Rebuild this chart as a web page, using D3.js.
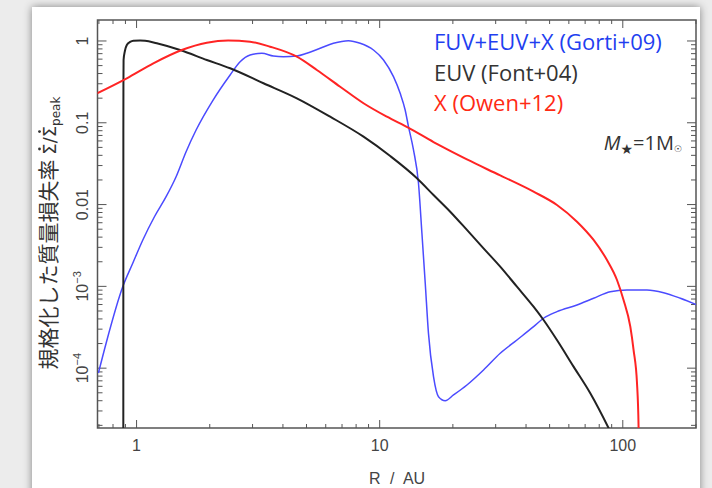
<!DOCTYPE html>
<html><head><meta charset="utf-8">
<script src="https://cdn.jsdelivr.net/npm/d3@7"></script>
<style>body{margin:0;background:#ececec;} svg{display:block}</style>
</head><body>
<svg id="c" width="712" height="488"></svg>
<script>
// ---- data ----
const seriesNames = ["FUV+EUV+X (Gorti+09)", "EUV (Font+04)", "X (Owen+12)"];
const seriesColors = ["#4b4bff", "#222222", "#ff2424"];
const legendColors = ["#1f3ff0", "#333333", "#ff2a14"];

const gortiR = [0.70,0.753,0.882,0.969,1.066,1.19,1.329,1.461,1.606,1.766,2.074,2.437,2.679,2.945,3.291,3.673,4.039,4.585,5.04,5.717,6.485,7.475,8.353,9.474,10.42,11.45,12.2,12.79,13.2,13.84,14.51,14.99,15.47,15.95,16.73,17.54,18.69,20.22,22.96,26.87,31.47,36.87,43.15,47.45,53.86,65.11,76.2,89.2,104.5,126.3,147.9,173.3,203];
const gortiV = [8.6e-5,1.99e-4,9.8e-4,1.89e-3,3.64e-3,7.0e-3,0.0123,0.0216,0.0437,0.0805,0.187,0.379,0.551,0.665,0.698,0.646,0.634,0.646,0.698,0.803,0.924,0.994,0.924,0.765,0.578,0.361,0.226,0.1414,0.0884,0.0459,0.01796,4.4e-3,1.076e-3,2.63e-4,7.76e-5,4.42e-5,3.95e-5,4.64e-5,6.14e-5,9.37e-5,1.5e-4,2.18e-4,3.17e-4,4.02e-4,4.84e-4,5.84e-4,7.05e-4,8.49e-4,8.91e-4,8.91e-4,8.26e-4,7.05e-4,5.84e-4];

const fontR = [0.8862,0.8866,0.8872,0.8884,0.90,0.916,0.945,0.975,1.039,1.089,1.217,1.517,1.954,2.437,3.342,4.585,6.285,8.62,11.1,14.3,16.73,19.6,22.96,26.87,31.47,36.87,43.15,47.45,53.86,63.04,73.86,87.8,93.6];
const fontV = [1e-5,0.074,0.3,0.578,0.75,0.881,0.96,0.995,1.0,0.995,0.924,0.765,0.578,0.457,0.3,0.1965,0.117,0.0667,0.0387,0.0207,0.01291,8.07e-3,4.83e-3,2.88e-3,1.72e-3,9.78e-4,5.57e-4,3.83e-4,2.18e-4,1.03e-4,4.86e-5,1.83e-5,1.24e-5];

const owenR = [0.691,0.916,1.178,1.542,1.954,2.391,2.945,3.559,4.585,5.54,6.91,8.62,10.76,13.16,16.73,18.39,22.96,31.47,43.15,53.86,65.11,76.2,86.5,95.1,101.2,107.9,111.3,114.96,116.7,116.9];
const owenV = [0.226,0.345,0.526,0.765,0.94,1.0,0.967,0.84,0.634,0.436,0.272,0.171,0.117,0.0859,0.0574,0.0492,0.0351,0.0224,0.01418,9.75e-3,6.09e-3,3.64e-3,2.07e-3,1.18e-3,6.72e-4,3.17e-4,1.64e-4,6.45e-5,1.83e-5,1.0e-5];

const xTickValues = [1, 10, 100];
const xTickLabels = ["1", "10", "100"];
const yTickValues = [1, 0.1, 0.01, 1e-3, 1e-4];
const yTickLabels = ["1", "0.1", "0.01", "10^−3", "10^−4"];
const xDomain = [0.694, 201];
const yDomain = [1.83e-5, 1.78];

// ---- drawing ----
const svg = d3.select("#c");
const defs = svg.append("defs");
const f = defs.append("filter").attr("id","sh").attr("x","-10%").attr("y","-10%").attr("width","120%").attr("height","120%");
f.append("feDropShadow").attr("dx",0).attr("dy",0).attr("stdDeviation",4).attr("flood-color","#000").attr("flood-opacity",0.45);
svg.append("rect").attr("x",32).attr("y",7).attr("width",668).attr("height",500).attr("fill","#fff").attr("filter","url(#sh)");

const L = 97.5, R = 696, T = 20, B = 428;
const x = d3.scaleLog().domain(xDomain).range([L, R]);
const y = d3.scaleLog().domain(yDomain).range([B, T]);

defs.append("clipPath").attr("id","clip").append("rect").attr("x",L).attr("y",T).attr("width",R-L).attr("height",B-T);

const xMinor = x.ticks().filter(d => !xTickValues.some(v => Math.abs(v-d)/v < 1e-9));
const yMinor = y.ticks().filter(d => !yTickValues.some(v => Math.abs(v-d)/v < 1e-9));

function styleAxis(g){ g.select(".domain").remove(); g.selectAll("line").attr("stroke","#555"); }
const tickFont = "'Liberation Sans', Arial, sans-serif";

// bottom
svg.append("g").attr("transform",`translate(0,${B})`).call(d3.axisBottom(x).tickValues(xMinor).tickSize(-4).tickFormat("")).call(styleAxis);
const gb = svg.append("g").attr("transform",`translate(0,${B})`)
  .call(d3.axisBottom(x).tickValues(xTickValues).tickSize(-8).tickPadding(12).tickFormat((d,i)=>xTickLabels[i])).call(styleAxis);
gb.selectAll("text").attr("font-family",tickFont).attr("font-size",16).attr("fill","#444");
// top
svg.append("g").attr("transform",`translate(0,${T})`).call(d3.axisTop(x).tickValues(xMinor).tickSize(-4).tickFormat("")).call(styleAxis);
svg.append("g").attr("transform",`translate(0,${T})`).call(d3.axisTop(x).tickValues(xTickValues).tickSize(-8).tickFormat("")).call(styleAxis);
// right
svg.append("g").attr("transform",`translate(${R},0)`).call(d3.axisRight(y).tickValues(yMinor).tickSize(-5).tickFormat("")).call(styleAxis);
svg.append("g").attr("transform",`translate(${R},0)`).call(d3.axisRight(y).tickValues(yTickValues).tickSize(-9).tickFormat("")).call(styleAxis);
// left
svg.append("g").attr("transform",`translate(${L},0)`).call(d3.axisLeft(y).tickValues(yMinor).tickSize(-5).tickFormat("")).call(styleAxis);
const gl = svg.append("g").attr("transform",`translate(${L},0)`)
  .call(d3.axisLeft(y).tickValues(yTickValues).tickSize(-9).tickFormat((d,i)=>yTickLabels[i])).call(styleAxis);
gl.selectAll("text").each(function(){
  const t = d3.select(this); const s = t.text(); t.text("");
  t.attr("x",0).attr("y",0).attr("dy",null).attr("text-anchor","middle")
   .attr("transform","translate(-10,0) rotate(-90)")
   .attr("font-family",tickFont).attr("font-size",16).attr("fill","#444");
  if (s.includes("^")) {
    const [b,e] = s.split("^");
    t.append("tspan").text(b);
    t.append("tspan").attr("font-size",11).attr("dy","-0.6em").text(e);
  } else t.text(s);
});

// frame
svg.append("rect").attr("x",L).attr("y",T).attr("width",R-L).attr("height",B-T).attr("fill","none").attr("stroke","#555").attr("stroke-width",1.5);

// curves
const line = d3.line().x(d=>x(d[0])).y(d=>y(d[1])).curve(d3.curveMonotoneX);
const plot = svg.append("g").attr("clip-path","url(#clip)");
const series = [
  {r: gortiR, v: gortiV, w: 1.5},
  {r: fontR, v: fontV, w: 2},
  {r: owenR, v: owenV, w: 2}
];
series.forEach((s,i)=>{
  plot.append("path").datum(d3.zip(s.r, s.v)).attr("d", line)
    .attr("fill","none").attr("stroke",seriesColors[i]).attr("stroke-width",s.w).attr("stroke-linejoin","round");
});

// legend
const legFont = "'Open Sans', Lato, sans-serif";
const legTexts = seriesNames.map((n,i)=>
  svg.append("text").attr("x",434).attr("y",50+i*30.5).attr("font-family",legFont).attr("font-size",19.5)
    .attr("font-weight",500).attr("fill",legendColors[i]).text(n));
const w0 = legTexts[0].node().getComputedTextLength();
const fs = Math.min(22, 19.5 * 246 / w0);
legTexts.forEach(t => t.attr("font-size", fs.toFixed(2)));

const ms = svg.append("text").attr("x",682).attr("y",150).attr("text-anchor","end").attr("font-family",legFont).attr("font-size",20).attr("fill","#333");
ms.append("tspan").attr("font-style","italic").text("M");
ms.append("tspan").attr("font-size",14).attr("dy",4).attr("font-family","'DejaVu Sans'").text("★");
ms.append("tspan").attr("dy",-4).text("=1M");
ms.append("tspan").attr("font-size",9).attr("dy",2).attr("font-family","'DejaVu Sans'").text("☉");

// axis titles
svg.append("text").attr("x",397).attr("y",484).attr("text-anchor","middle").attr("font-family",tickFont)
  .attr("font-size",16).attr("fill","#444").attr("word-spacing",5).text("R / AU");
const ytg = svg.append("g").attr("transform","translate(56,233) rotate(-90)");
const yt = ytg.append("text").attr("x",0).attr("y",0).attr("text-anchor","middle")
  .attr("font-family","'Noto Sans CJK JP', sans-serif").attr("font-size",21).attr("fill","#333");
const titleMain = "規格化した質量損失率 ";
const titleSym = "Σ/Σ";
yt.append("tspan").text(titleMain);
yt.append("tspan").attr("font-family","'DejaVu Sans', sans-serif").attr("font-size",18).text(titleSym);
yt.append("tspan").attr("font-family","'DejaVu Sans', sans-serif").attr("font-size",12).attr("dy",4).text("peak");
// dots above the two Σ (time derivative)
[titleMain.length, titleMain.length + 2].forEach(ci => {
  const a = yt.node().getStartPositionOfChar(ci), b = yt.node().getEndPositionOfChar(ci);
  ytg.append("circle").attr("cx",(a.x+b.x)/2).attr("cy",a.y-16.5).attr("r",1.4).attr("fill","#333");
});
</script>
</body></html>
